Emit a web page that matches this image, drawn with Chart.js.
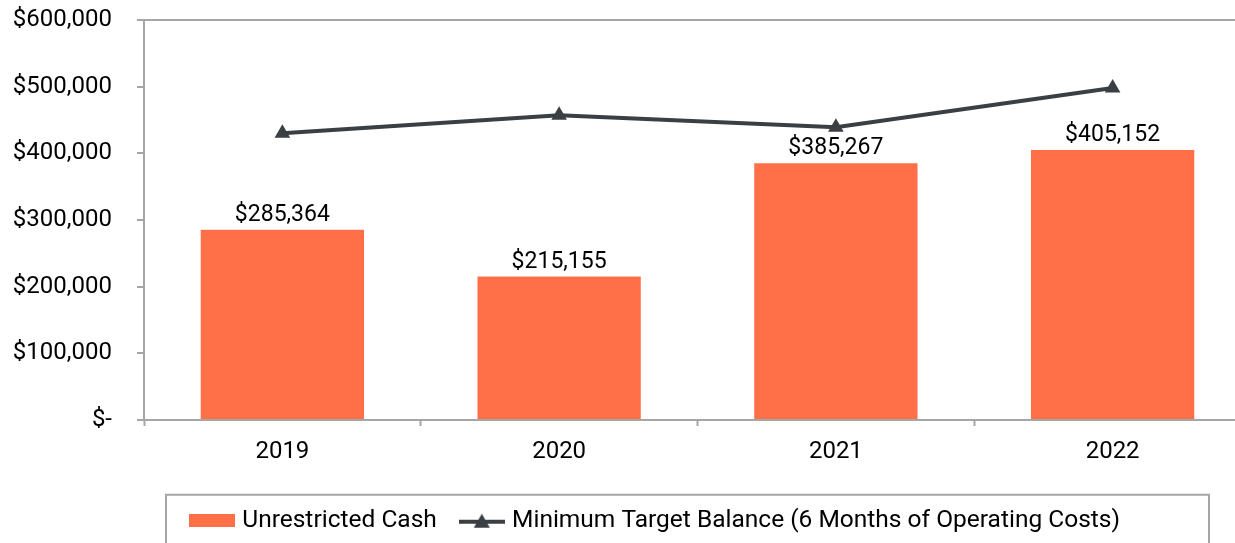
<!DOCTYPE html>
<html>
<head>
<meta charset="utf-8">
<script src="https://cdn.jsdelivr.net/npm/chart.js@4.4.1/dist/chart.umd.min.js"></script>
<style>
  html, body { margin: 0; padding: 0; background: #fff; overflow: hidden; }
  #wrap { position: relative; width: 1260px; height: 543px; }
</style>
</head>
<body>
<div id="wrap"><canvas id="cashChart"></canvas></div>
<script>
// chart data
var years = ['2019', '2020', '2021', '2022'];
var unrestrictedCash = [285364, 215155, 385267, 405152];
var minTargetBalance = [430000, 457000, 439000, 498000];
var seriesNames = ['Unrestricted Cash', 'Minimum Target Balance (6 Months of Operating Costs)'];

var barColor = '#FF7049';
var lineColor = '#3A3F44';
var axisColor = '#A6A6A6';
var fontFamily = 'Roboto, "Liberation Sans", sans-serif';
var fontSize = 23;

function money(v) {
    if (v === 0) return '$-';
    return '$' + v.toLocaleString('en-US');
}

// little legend icons
function makeBarIcon() {
    var c = document.createElement('canvas');
    c.width = 46; c.height = 13;
    var x = c.getContext('2d');
    x.fillStyle = barColor;
    x.fillRect(0, 0, 46, 13);
    return c;
}
function makeLineIcon() {
    var c = document.createElement('canvas');
    c.width = 46; c.height = 16;
    var x = c.getContext('2d');
    x.strokeStyle = lineColor;
    x.lineWidth = 4;
    x.beginPath();
    x.moveTo(0, 9); x.lineTo(46, 9);
    x.stroke();
    x.fillStyle = lineColor;
    x.beginPath();
    x.moveTo(23, 1); x.lineTo(31, 15); x.lineTo(15, 15);
    x.closePath();
    x.fill();
    return c;
}
var legendIcons = [makeBarIcon(), makeLineIcon()];

var barLabels = {
    id: 'barLabels',
    afterDatasetDraw: function(chart, args) {
        if (args.index !== 0) return;
        var ctx = chart.ctx;
        ctx.save();
        ctx.font = fontSize + 'px ' + fontFamily;
        ctx.fillStyle = '#000';
        ctx.textAlign = 'center';
        ctx.textBaseline = 'alphabetic';
        args.meta.data.forEach(function(bar, i) {
            ctx.fillText(money(unrestrictedCash[i]), bar.x, bar.y - 9);
        });
        ctx.restore();
    }
};

// excel legend sits a bit right of centre
var legendShift = {
    id: 'legendShift',
    afterLayout: function(chart) {
        chart.legend.left += 54;
    }
};

var legendBorder = {
    id: 'legendBorder',
    afterDraw: function(chart) {
        var boxes = chart.legend.legendHitBoxes;
        if (!boxes || !boxes.length) return;
        var first = boxes[0];
        var last = boxes[boxes.length - 1];
        var cy = first.top + first.height / 2;
        var ctx = chart.ctx;
        ctx.save();
        ctx.strokeStyle = axisColor;
        ctx.lineWidth = 2;
        ctx.strokeRect(first.left - 28, cy - 26, (last.left + last.width + 89) - (first.left - 28), 80);
        ctx.restore();
    }
};

Chart.defaults.font.family = fontFamily;
Chart.defaults.font.size = fontSize;
Chart.defaults.color = '#000';

new Chart(document.getElementById('cashChart'), {
    type: 'bar',
    data: {
        labels: years,
        datasets: [{
            type: 'bar',
            label: seriesNames[0],
            data: unrestrictedCash,
            backgroundColor: barColor,
            barPercentage: 0.59,
            categoryPercentage: 1.0,
            order: 2
        }, {
            type: 'line',
            label: seriesNames[1],
            data: minTargetBalance,
            borderColor: lineColor,
            backgroundColor: lineColor,
            borderWidth: 4,
            tension: 0,
            pointStyle: 'triangle',
            pointRadius: 9,
            pointBorderWidth: 0,
            pointBackgroundColor: lineColor,
            order: 1
        }]
    },
    options: {
        responsive: true,
        maintainAspectRatio: false,
        animation: false,
        layout: { padding: { top: 20, left: 0, right: 0, bottom: 0 } },
        plugins: {
            tooltip: { enabled: false },
            legend: {
                position: 'bottom',
                labels: {
                    usePointStyle: true,
                    pointStyleWidth: 36,
                    boxHeight: 13,
                    padding: 27,
                    color: '#000',
                    font: { size: 24.5 },
                    sort: function(a, b) { return a.datasetIndex - b.datasetIndex; },
                    generateLabels: function(chart) {
                        var items = Chart.defaults.plugins.legend.labels.generateLabels(chart);
                        items.forEach(function(it) { it.pointStyle = legendIcons[it.datasetIndex]; });
                        return items;
                    }
                }
            }
        },
        scales: {
            x: {
                offset: true,
                grid: {
                    display: true,
                    offset: true,
                    drawOnChartArea: false,
                    tickLength: 6,
                    tickWidth: 2,
                    tickColor: axisColor
                },
                border: { color: axisColor, width: 2 },
                ticks: { padding: 12, color: '#000', font: { size: 24 } },
                afterFit: function(scale) {
                    scale.height = 61.5;
                    scale.paddingLeft = 0;
                    scale.paddingRight = 0;
                }
            },
            y: {
                min: 0,
                max: 600000,
                ticks: {
                    stepSize: 100000,
                    padding: 25,
                    color: '#000',
                    font: { size: 24 },
                    callback: function(v) { return money(v); }
                },
                grid: {
                    color: function(c) { return c.tick && c.tick.value === 600000 ? axisColor : 'transparent'; },
                    lineWidth: 2,
                    tickLength: 7,
                    tickWidth: 2,
                    tickColor: axisColor
                },
                border: { color: axisColor, width: 2 },
                afterFit: function(scale) {
                    scale.width = 144;
                    scale.paddingTop = 14;
                    scale.paddingBottom = 14;
                }
            }
        }
    },
    plugins: [barLabels, legendShift, legendBorder]
});
</script>
</body>
</html>
